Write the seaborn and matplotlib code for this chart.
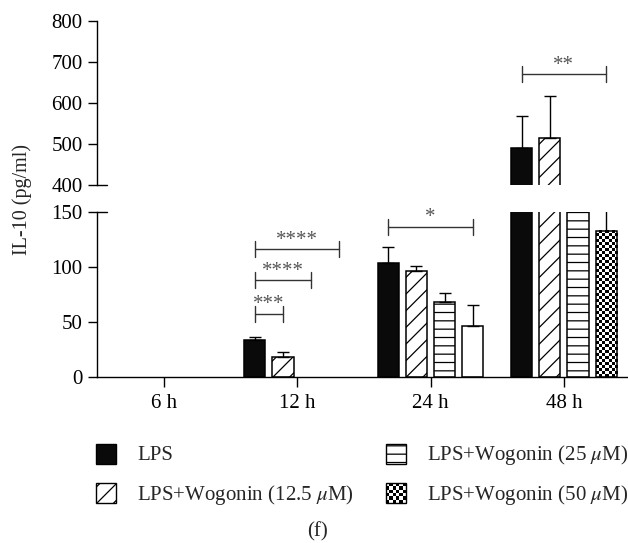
import numpy as np
import pandas as pd
import matplotlib
matplotlib.use('Agg')
import matplotlib.pyplot as plt
from matplotlib.patches import Rectangle
import seaborn as sns

sns.set_style('ticks')
plt.rcParams['font.family'] = ['Liberation Serif', 'DejaVu Serif']
plt.rcParams['mathtext.fontset'] = 'stix'
plt.rcParams['hatch.linewidth'] = 0.9

# data
times = ['6 h', '12 h', '24 h', '48 h']
groups = ['LPS', 'LPS+Wogonin (12.5 $\\mu$M)', 'LPS+Wogonin (25 $\\mu$M)',
          'LPS+Wogonin (50 $\\mu$M)']

lps = [0, 33.9, 103.6, 491]
wog_12 = [0, 18.7, 96.9, 514]
wog_25 = [0, 0, 68.7, 260]
wog_50 = [0, 0, 46.9, 133.3]

lps_err = [0, 2.7, 15.1, 78]
wog_12_err = [0, 4.0, 4.3, 104]
wog_25_err = [0, 0, 8.2, 0]
wog_50_err = [0, 0, 18.8, 30]

# significance brackets: time index, from group, to group, height, label
sig_time = [1, 1, 1, 2, 3]
sig_from = [0, 0, 0, 0, 0]
sig_to = [1, 2, 3, 3, 3]
sig_y = [58, 88.5, 116.5, 137, 671]
sig_text = ['***', '****', '****', '*', '**']

values = [lps, wog_12, wog_25, wog_50]
errors = [lps_err, wog_12_err, wog_25_err, wog_50_err]

df = pd.DataFrame({
    'time': np.tile(times, len(groups)),
    'group': np.repeat(groups, len(times)),
    'value': np.concatenate(values),
})

palette = {groups[0]: '#0a0a0a', groups[1]: 'white', groups[2]: 'white', groups[3]: 'white'}
hatches = [None, '//', '--', None]
fs = 15

fig = plt.figure(figsize=(6.28, 5.43), dpi=100)
ax_low = fig.add_axes([0.1545, 0.3051, 0.8455, 0.3039])
ax_top = fig.add_axes([0.1545, 0.6593, 0.8455, 0.3015])

for ax in [ax_low, ax_top]:
    sns.barplot(data=df, x='time', y='value', hue='group', order=times, hue_order=groups,
                palette=palette, width=0.845, gap=0.25, errorbar=None, legend=False,
                edgecolor='black', linewidth=1.1, saturation=1, ax=ax)
    for i, p in enumerate(ax.patches):
        h = hatches[i // len(times)]
        if h:
            p.set_hatch(h)
        if p.get_height() == 0:
            p.set_visible(False)
    # error bars, upper half only
    for g in range(len(groups)):
        xs, ys, es = [], [], []
        for t in range(len(times)):
            if errors[g][t] > 0:
                p = ax.patches[g * len(times) + t]
                xs.append(p.get_x() + p.get_width() / 2)
                ys.append(values[g][t])
                es.append(errors[g][t])
        ax.errorbar(xs, ys, yerr=[np.zeros(len(es)), es], fmt='none', ecolor='black',
                    elinewidth=1.0, capsize=4.5, capthick=1.0, zorder=1)
    ax.set_xlim(-0.5, 3.48)
    ax.set_xlabel('')
    ax.set_ylabel('')
    ax.tick_params(axis='both', labelsize=fs, length=6.5, width=1.0, color='black',
                   labelcolor='black', pad=4)
    ax.spines['right'].set_visible(False)
    ax.spines['top'].set_visible(False)
    ax.spines['left'].set_linewidth(1.0)
    ax.spines['bottom'].set_linewidth(1.0)
    ax.spines['left'].set_color('black')
    ax.spines['bottom'].set_color('black')

ax_low.set_ylim(0, 150)
ax_low.set_yticks([0, 50, 100, 150])
ax_low.tick_params(axis='x', pad=5, length=7)
ax_top.set_ylim(400, 800)
ax_top.set_yticks([400, 500, 600, 700, 800])
ax_top.set_xticks([])
ax_top.spines['bottom'].set_visible(False)

# break marks crossing the spine
ax_low.plot([0, 0.018], [1, 1], transform=ax_low.transAxes, color='black', lw=1.0, clip_on=False)
ax_top.plot([0, 0.018], [0, 0], transform=ax_top.transAxes, color='black', lw=1.0, clip_on=False)

# checkerboard fill for the 48 h / 50 uM bar
p = ax_low.patches[3 * len(times) + 3]
ppu = ax_low.bbox.height / 150
bar_h = min(p.get_height(), 150)
rows = int(round(bar_h * ppu / 3))
checker = (np.indices((rows, 7)).sum(axis=0) % 2).astype(float)
ax_low.imshow(checker, cmap='gray_r', origin='lower', interpolation='nearest', aspect='auto',
              extent=(p.get_x(), p.get_x() + p.get_width(), 0, bar_h), zorder=2.5)
p.set_facecolor('none')
p.set_zorder(3)
ax_low.set_xlim(-0.5, 3.48)
ax_low.set_ylim(0, 150)

# significance brackets
for t, g0, g1, y, txt in zip(sig_time, sig_from, sig_to, sig_y, sig_text):
    ax = ax_top if y > 150 else ax_low
    lo, hi = ax.get_ylim()
    half = 8 / (ax.bbox.height / (hi - lo))
    pa = ax.patches[g0 * len(times) + t]
    pb = ax.patches[g1 * len(times) + t]
    xa = pa.get_x() + pa.get_width() / 2
    xb = pb.get_x() + pb.get_width() / 2
    ax.plot([xa, xb], [y, y], color='#333333', lw=1.0, zorder=4)
    ax.plot([xa, xa], [y - half, y + half], color='#333333', lw=1.0, zorder=4)
    ax.plot([xb, xb], [y - half, y + half], color='#333333', lw=1.0, zorder=4)
    ax.annotate(txt, ((xa + xb) / 2, y), xytext=(0, 3), textcoords='offset points',
                ha='center', va='baseline', fontsize=15, color='#555555')

fig.text(0.0345, 0.633, 'IL-10 (pg/ml)', rotation=90, ha='center', va='center', fontsize=14.5)

# legend drawn by hand below the chart
sw_w, sw_h = 20 / 628, 20 / 543
sw_x = [0.1524, 0.1524, 0.6146, 0.6146]
sw_y = [0.1464, 0.0728, 0.1464, 0.0728]
tx_x = [0.2182, 0.2182, 0.6795, 0.6795]
tx_y = [0.162, 0.0885, 0.162, 0.0885]
for g in range(len(groups)):
    lax = fig.add_axes([sw_x[g], sw_y[g], sw_w, sw_h])
    lax.set_axis_off()
    if g == 3:
        lax.imshow((np.indices((6, 6)).sum(axis=0) % 2).astype(float), cmap='gray_r',
                   interpolation='nearest', aspect='auto', extent=(0, 1, 0, 1))
        face = 'none'
    else:
        face = palette[groups[g]]
    lax.add_patch(Rectangle((0, 0), 1, 1, facecolor=face, edgecolor='black', lw=1.0,
                            hatch=hatches[g], transform=lax.transAxes, clip_on=False))
    lax.set_xlim(0, 1)
    lax.set_ylim(0, 1)
    fig.text(tx_x[g], tx_y[g], groups[g], ha='left', va='center', fontsize=fs)

fig.text(0.505, 0.02, '(f)', ha='center', va='center', fontsize=fs)

fig.savefig('out.png', dpi=100)
